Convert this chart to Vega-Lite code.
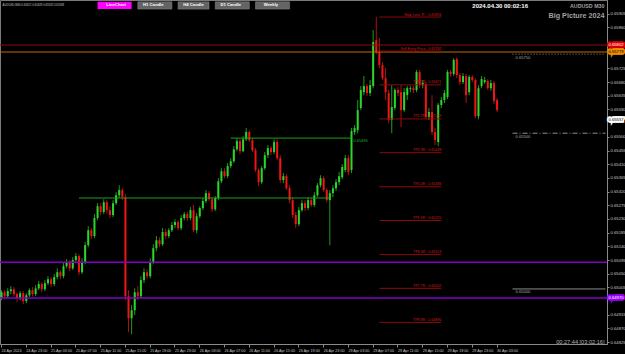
{
"$schema":"https://vega.github.io/schema/vega-lite/v6.json",
"width":607,"height":344,
"autosize":{"type":"none"},
"padding":{"left":0,"top":0,"right":18,"bottom":10},
"background":"#000000",
"config":{"view":{"stroke":"#7a7a7a"},"font":"Liberation Sans",
 "axisX":{"labelAlign":"left","labelAngle":0,"labelBaseline":"top","labelPadding":1,"labelFontSize":3.7,"labelColor":"#c8c8c8","labelFont":"Liberation Sans","tickSize":3,"tickColor":"#8a8a8a","domainColor":"#8a8a8a","labelOverlap":false,"labelBound":false,"labelFlush":false,"grid":false},
 "axisY":{"labelFontSize":4.2,"labelColor":"#c8c8c8","labelFont":"Liberation Sans","tickSize":2,"labelPadding":1,"tickColor":"#8a8a8a","domainColor":"#8a8a8a","grid":false,"labelOverlap":false,"labelBound":false,"labelFlush":false}},
"datasets":{
"bars":[
{"t":"24 Apr 19:00","o":0.64970,"h":0.64996,"l":0.64963,"c":0.64989},
{"t":"24 Apr 19:30","o":0.64989,"h":0.64996,"l":0.64966,"c":0.64976},
{"t":"24 Apr 20:00","o":0.64976,"h":0.65002,"l":0.64970,"c":0.64993},
{"t":"24 Apr 20:30","o":0.64993,"h":0.65009,"l":0.64983,"c":0.64999},
{"t":"24 Apr 21:00","o":0.64999,"h":0.65006,"l":0.64976,"c":0.64983},
{"t":"24 Apr 21:30","o":0.64983,"h":0.64989,"l":0.64956,"c":0.64970},
{"t":"24 Apr 22:00","o":0.64970,"h":0.64993,"l":0.64963,"c":0.64986},
{"t":"24 Apr 22:30","o":0.64986,"h":0.64993,"l":0.64950,"c":0.64960},
{"t":"24 Apr 23:00","o":0.64960,"h":0.64986,"l":0.64953,"c":0.64979},
{"t":"24 Apr 23:30","o":0.64979,"h":0.65002,"l":0.64973,"c":0.64996},
{"t":"25 Apr 00:00","o":0.64996,"h":0.65006,"l":0.64976,"c":0.64983},
{"t":"25 Apr 00:30","o":0.64983,"h":0.65012,"l":0.64976,"c":0.65002},
{"t":"25 Apr 01:00","o":0.65002,"h":0.65026,"l":0.64996,"c":0.65016},
{"t":"25 Apr 01:30","o":0.65016,"h":0.65022,"l":0.64989,"c":0.64999},
{"t":"25 Apr 02:00","o":0.64999,"h":0.65029,"l":0.64993,"c":0.65019},
{"t":"25 Apr 02:30","o":0.65019,"h":0.65042,"l":0.65012,"c":0.65032},
{"t":"25 Apr 03:00","o":0.65032,"h":0.65039,"l":0.65006,"c":0.65016},
{"t":"25 Apr 03:30","o":0.65016,"h":0.65049,"l":0.65009,"c":0.65039},
{"t":"25 Apr 04:00","o":0.65039,"h":0.65068,"l":0.65032,"c":0.65055},
{"t":"25 Apr 04:30","o":0.65055,"h":0.65062,"l":0.65032,"c":0.65042},
{"t":"25 Apr 05:00","o":0.65042,"h":0.65085,"l":0.65035,"c":0.65075},
{"t":"25 Apr 05:30","o":0.65075,"h":0.65098,"l":0.65068,"c":0.65088},
{"t":"25 Apr 06:00","o":0.65088,"h":0.65095,"l":0.65058,"c":0.65068},
{"t":"25 Apr 06:30","o":0.65068,"h":0.65104,"l":0.65062,"c":0.65095},
{"t":"25 Apr 07:00","o":0.65095,"h":0.65118,"l":0.65085,"c":0.65108},
{"t":"25 Apr 07:30","o":0.65108,"h":0.65114,"l":0.65045,"c":0.65055},
{"t":"25 Apr 08:00","o":0.65055,"h":0.65101,"l":0.65049,"c":0.65088},
{"t":"25 Apr 08:30","o":0.65088,"h":0.65154,"l":0.65081,"c":0.65144},
{"t":"25 Apr 09:00","o":0.65144,"h":0.65206,"l":0.65137,"c":0.65193},
{"t":"25 Apr 09:30","o":0.65193,"h":0.65200,"l":0.65164,"c":0.65174},
{"t":"25 Apr 10:00","o":0.65174,"h":0.65246,"l":0.65167,"c":0.65233},
{"t":"25 Apr 10:30","o":0.65233,"h":0.65282,"l":0.65226,"c":0.65272},
{"t":"25 Apr 11:00","o":0.65272,"h":0.65282,"l":0.65243,"c":0.65253},
{"t":"25 Apr 11:30","o":0.65253,"h":0.65295,"l":0.65246,"c":0.65285},
{"t":"25 Apr 12:00","o":0.65285,"h":0.65292,"l":0.65249,"c":0.65259},
{"t":"25 Apr 12:30","o":0.65259,"h":0.65272,"l":0.65233,"c":0.65243},
{"t":"25 Apr 13:00","o":0.65243,"h":0.65292,"l":0.65236,"c":0.65282},
{"t":"25 Apr 13:30","o":0.65282,"h":0.65318,"l":0.65276,"c":0.65308},
{"t":"25 Apr 14:00","o":0.65308,"h":0.65341,"l":0.65299,"c":0.65325},
{"t":"25 Apr 14:30","o":0.65325,"h":0.65331,"l":0.65292,"c":0.65302},
{"t":"25 Apr 15:00","o":0.65302,"h":0.65312,"l":0.64963,"c":0.64976},
{"t":"25 Apr 15:30","o":0.64976,"h":0.64996,"l":0.64858,"c":0.64904},
{"t":"25 Apr 16:00","o":0.64904,"h":0.64947,"l":0.64851,"c":0.64930},
{"t":"25 Apr 16:30","o":0.64930,"h":0.65002,"l":0.64914,"c":0.64989},
{"t":"25 Apr 17:00","o":0.64989,"h":0.65009,"l":0.64963,"c":0.64976},
{"t":"25 Apr 17:30","o":0.64976,"h":0.65042,"l":0.64970,"c":0.65029},
{"t":"25 Apr 18:00","o":0.65029,"h":0.65068,"l":0.65019,"c":0.65055},
{"t":"25 Apr 18:30","o":0.65055,"h":0.65065,"l":0.65032,"c":0.65042},
{"t":"25 Apr 19:00","o":0.65042,"h":0.65101,"l":0.65035,"c":0.65088},
{"t":"25 Apr 19:30","o":0.65088,"h":0.65147,"l":0.65081,"c":0.65134},
{"t":"25 Apr 20:00","o":0.65134,"h":0.65174,"l":0.65124,"c":0.65160},
{"t":"25 Apr 20:30","o":0.65160,"h":0.65170,"l":0.65137,"c":0.65147},
{"t":"25 Apr 21:00","o":0.65147,"h":0.65200,"l":0.65141,"c":0.65187},
{"t":"25 Apr 21:30","o":0.65187,"h":0.65197,"l":0.65164,"c":0.65174},
{"t":"25 Apr 22:00","o":0.65174,"h":0.65200,"l":0.65167,"c":0.65193},
{"t":"25 Apr 22:30","o":0.65193,"h":0.65220,"l":0.65187,"c":0.65210},
{"t":"25 Apr 23:00","o":0.65210,"h":0.65229,"l":0.65200,"c":0.65220},
{"t":"25 Apr 23:30","o":0.65220,"h":0.65226,"l":0.65193,"c":0.65200},
{"t":"26 Apr 00:00","o":0.65200,"h":0.65243,"l":0.65193,"c":0.65233},
{"t":"26 Apr 00:30","o":0.65233,"h":0.65253,"l":0.65226,"c":0.65246},
{"t":"26 Apr 01:00","o":0.65246,"h":0.65253,"l":0.65223,"c":0.65233},
{"t":"26 Apr 01:30","o":0.65233,"h":0.65269,"l":0.65226,"c":0.65259},
{"t":"26 Apr 02:00","o":0.65259,"h":0.65276,"l":0.65187,"c":0.65193},
{"t":"26 Apr 02:30","o":0.65193,"h":0.65249,"l":0.65183,"c":0.65239},
{"t":"26 Apr 03:00","o":0.65239,"h":0.65272,"l":0.65233,"c":0.65266},
{"t":"26 Apr 03:30","o":0.65266,"h":0.65299,"l":0.65259,"c":0.65289},
{"t":"26 Apr 04:00","o":0.65289,"h":0.65325,"l":0.65282,"c":0.65315},
{"t":"26 Apr 04:30","o":0.65315,"h":0.65322,"l":0.65289,"c":0.65295},
{"t":"26 Apr 05:00","o":0.65295,"h":0.65302,"l":0.65253,"c":0.65262},
{"t":"26 Apr 05:30","o":0.65262,"h":0.65305,"l":0.65256,"c":0.65299},
{"t":"26 Apr 06:00","o":0.65299,"h":0.65364,"l":0.65292,"c":0.65354},
{"t":"26 Apr 06:30","o":0.65354,"h":0.65397,"l":0.65348,"c":0.65387},
{"t":"26 Apr 07:00","o":0.65387,"h":0.65397,"l":0.65364,"c":0.65371},
{"t":"26 Apr 07:30","o":0.65371,"h":0.65414,"l":0.65364,"c":0.65404},
{"t":"26 Apr 08:00","o":0.65404,"h":0.65430,"l":0.65397,"c":0.65420},
{"t":"26 Apr 08:30","o":0.65420,"h":0.65470,"l":0.65414,"c":0.65459},
{"t":"26 Apr 09:00","o":0.65459,"h":0.65496,"l":0.65453,"c":0.65486},
{"t":"26 Apr 09:30","o":0.65486,"h":0.65492,"l":0.65443,"c":0.65453},
{"t":"26 Apr 10:00","o":0.65453,"h":0.65502,"l":0.65450,"c":0.65492},
{"t":"26 Apr 10:30","o":0.65492,"h":0.65529,"l":0.65486,"c":0.65516},
{"t":"26 Apr 11:00","o":0.65516,"h":0.65522,"l":0.65483,"c":0.65489},
{"t":"26 Apr 11:30","o":0.65489,"h":0.65496,"l":0.65450,"c":0.65456},
{"t":"26 Apr 12:00","o":0.65456,"h":0.65463,"l":0.65384,"c":0.65391},
{"t":"26 Apr 12:30","o":0.65391,"h":0.65397,"l":0.65338,"c":0.65351},
{"t":"26 Apr 13:00","o":0.65351,"h":0.65404,"l":0.65345,"c":0.65397},
{"t":"26 Apr 13:30","o":0.65397,"h":0.65450,"l":0.65391,"c":0.65440},
{"t":"26 Apr 14:00","o":0.65440,"h":0.65473,"l":0.65430,"c":0.65463},
{"t":"26 Apr 14:30","o":0.65463,"h":0.65470,"l":0.65440,"c":0.65450},
{"t":"26 Apr 15:00","o":0.65450,"h":0.65492,"l":0.65443,"c":0.65483},
{"t":"26 Apr 15:30","o":0.65483,"h":0.65492,"l":0.65424,"c":0.65430},
{"t":"26 Apr 16:00","o":0.65430,"h":0.65440,"l":0.65348,"c":0.65358},
{"t":"26 Apr 16:30","o":0.65358,"h":0.65381,"l":0.65348,"c":0.65371},
{"t":"26 Apr 17:00","o":0.65371,"h":0.65377,"l":0.65325,"c":0.65331},
{"t":"26 Apr 17:30","o":0.65331,"h":0.65341,"l":0.65282,"c":0.65292},
{"t":"26 Apr 18:00","o":0.65292,"h":0.65302,"l":0.65233,"c":0.65243},
{"t":"26 Apr 18:30","o":0.65243,"h":0.65253,"l":0.65200,"c":0.65213},
{"t":"26 Apr 19:00","o":0.65213,"h":0.65269,"l":0.65206,"c":0.65259},
{"t":"26 Apr 19:30","o":0.65259,"h":0.65292,"l":0.65253,"c":0.65282},
{"t":"26 Apr 20:00","o":0.65282,"h":0.65292,"l":0.65256,"c":0.65266},
{"t":"26 Apr 20:30","o":0.65266,"h":0.65302,"l":0.65259,"c":0.65292},
{"t":"26 Apr 21:00","o":0.65292,"h":0.65299,"l":0.65269,"c":0.65276},
{"t":"26 Apr 21:30","o":0.65276,"h":0.65318,"l":0.65269,"c":0.65308},
{"t":"26 Apr 22:00","o":0.65308,"h":0.65348,"l":0.65302,"c":0.65341},
{"t":"26 Apr 22:30","o":0.65341,"h":0.65374,"l":0.65334,"c":0.65364},
{"t":"26 Apr 23:00","o":0.65364,"h":0.65371,"l":0.65318,"c":0.65325},
{"t":"26 Apr 23:30","o":0.65325,"h":0.65331,"l":0.65285,"c":0.65292},
{"t":"29 Apr 00:00","o":0.65292,"h":0.65325,"l":0.65144,"c":0.65315},
{"t":"29 Apr 00:30","o":0.65315,"h":0.65341,"l":0.65302,"c":0.65331},
{"t":"29 Apr 01:00","o":0.65331,"h":0.65361,"l":0.65322,"c":0.65351},
{"t":"29 Apr 01:30","o":0.65351,"h":0.65384,"l":0.65341,"c":0.65371},
{"t":"29 Apr 02:00","o":0.65367,"h":0.65410,"l":0.65361,"c":0.65401},
{"t":"29 Apr 02:30","o":0.65391,"h":0.65440,"l":0.65384,"c":0.65430},
{"t":"29 Apr 03:00","o":0.65430,"h":0.65440,"l":0.65374,"c":0.65384},
{"t":"29 Apr 03:30","o":0.65391,"h":0.65529,"l":0.65381,"c":0.65519},
{"t":"29 Apr 04:00","o":0.65516,"h":0.65539,"l":0.65506,"c":0.65529},
{"t":"29 Apr 04:30","o":0.65522,"h":0.65621,"l":0.65512,"c":0.65588},
{"t":"29 Apr 05:00","o":0.65595,"h":0.65667,"l":0.65588,"c":0.65654},
{"t":"29 Apr 05:30","o":0.65647,"h":0.65700,"l":0.65637,"c":0.65667},
{"t":"29 Apr 06:00","o":0.65667,"h":0.65674,"l":0.65634,"c":0.65644},
{"t":"29 Apr 06:30","o":0.65644,"h":0.65687,"l":0.65634,"c":0.65670},
{"t":"29 Apr 07:00","o":0.65667,"h":0.65851,"l":0.65660,"c":0.65812},
{"t":"29 Apr 07:30","o":0.65818,"h":0.65894,"l":0.65772,"c":0.65779},
{"t":"29 Apr 08:00","o":0.65779,"h":0.65825,"l":0.65726,"c":0.65736},
{"t":"29 Apr 08:30","o":0.65736,"h":0.65746,"l":0.65687,"c":0.65693},
{"t":"29 Apr 09:00","o":0.65693,"h":0.65726,"l":0.65621,"c":0.65647},
{"t":"29 Apr 09:30","o":0.65644,"h":0.65654,"l":0.65545,"c":0.65555},
{"t":"29 Apr 10:00","o":0.65555,"h":0.65670,"l":0.65512,"c":0.65598},
{"t":"29 Apr 10:30","o":0.65595,"h":0.65660,"l":0.65588,"c":0.65654},
{"t":"29 Apr 11:00","o":0.65654,"h":0.65664,"l":0.65634,"c":0.65644},
{"t":"29 Apr 11:30","o":0.65647,"h":0.65670,"l":0.65532,"c":0.65588},
{"t":"29 Apr 12:00","o":0.65588,"h":0.65660,"l":0.65582,"c":0.65647},
{"t":"29 Apr 12:30","o":0.65637,"h":0.65667,"l":0.65621,"c":0.65660},
{"t":"29 Apr 13:00","o":0.65657,"h":0.65667,"l":0.65647,"c":0.65660},
{"t":"29 Apr 13:30","o":0.65660,"h":0.65667,"l":0.65644,"c":0.65654},
{"t":"29 Apr 14:00","o":0.65654,"h":0.65720,"l":0.65647,"c":0.65713},
{"t":"29 Apr 14:30","o":0.65713,"h":0.65720,"l":0.65660,"c":0.65670},
{"t":"29 Apr 15:00","o":0.65670,"h":0.65687,"l":0.65660,"c":0.65677},
{"t":"29 Apr 15:30","o":0.65674,"h":0.65680,"l":0.65558,"c":0.65565},
{"t":"29 Apr 16:00","o":0.65565,"h":0.65595,"l":0.65555,"c":0.65582},
{"t":"29 Apr 16:30","o":0.65582,"h":0.65637,"l":0.65506,"c":0.65516},
{"t":"29 Apr 17:00","o":0.65516,"h":0.65529,"l":0.65473,"c":0.65489},
{"t":"29 Apr 17:30","o":0.65483,"h":0.65611,"l":0.65470,"c":0.65605},
{"t":"29 Apr 18:00","o":0.65605,"h":0.65631,"l":0.65595,"c":0.65621},
{"t":"29 Apr 18:30","o":0.65621,"h":0.65654,"l":0.65611,"c":0.65644},
{"t":"29 Apr 19:00","o":0.65631,"h":0.65720,"l":0.65624,"c":0.65713},
{"t":"29 Apr 19:30","o":0.65713,"h":0.65720,"l":0.65697,"c":0.65707},
{"t":"29 Apr 20:00","o":0.65707,"h":0.65759,"l":0.65700,"c":0.65753},
{"t":"29 Apr 20:30","o":0.65756,"h":0.65762,"l":0.65693,"c":0.65703},
{"t":"29 Apr 21:00","o":0.65703,"h":0.65710,"l":0.65670,"c":0.65680},
{"t":"29 Apr 21:30","o":0.65680,"h":0.65710,"l":0.65674,"c":0.65700},
{"t":"29 Apr 22:00","o":0.65700,"h":0.65707,"l":0.65611,"c":0.65637},
{"t":"29 Apr 22:30","o":0.65647,"h":0.65703,"l":0.65637,"c":0.65697},
{"t":"29 Apr 23:00","o":0.65697,"h":0.65703,"l":0.65680,"c":0.65687},
{"t":"29 Apr 23:30","o":0.65687,"h":0.65693,"l":0.65562,"c":0.65568},
{"t":"30 Apr 00:00","o":0.65568,"h":0.65670,"l":0.65558,"c":0.65660},
{"t":"30 Apr 00:30","o":0.65667,"h":0.65700,"l":0.65660,"c":0.65690},
{"t":"30 Apr 01:00","o":0.65680,"h":0.65697,"l":0.65674,"c":0.65687},
{"t":"30 Apr 01:30","o":0.65684,"h":0.65690,"l":0.65654,"c":0.65660},
{"t":"30 Apr 02:00","o":0.65660,"h":0.65687,"l":0.65651,"c":0.65677},
{"t":"30 Apr 02:30","o":0.65677,"h":0.65684,"l":0.65608,"c":0.65618},
{"t":"30 Apr 03:00","o":0.65621,"h":0.65628,"l":0.65582,"c":0.65588}
],
"hlines":[
{"p":0.65802,"kind":"alert"},
{"p":0.65779,"kind":"entry"},
{"p":0.65088,"kind":"zone"},
{"p":0.64970,"kind":"zone"}
],
"segments":[
{"a":"25 Apr 07:30","b":"29 Apr 00:00","p":0.65299,"kind":"dayrange","label":""},
{"a":"26 Apr 08:00","b":"29 Apr 03:30","p":0.65496,"kind":"dayrange","label":"0.65496"},
{"a":"29 Apr 08:00","b":"29 Apr 18:00","p":0.65894,"kind":"trade","label":"Stop Loss 'R' - 0.65894"},
{"a":"29 Apr 08:00","b":"29 Apr 18:00","p":0.65782,"kind":"trade","label":"Sell Entry Price - 0.65782"},
{"a":"29 Apr 08:00","b":"29 Apr 18:00","p":0.65671,"kind":"trade","label":"TP1 1R - 0.65671"},
{"a":"29 Apr 08:00","b":"29 Apr 18:00","p":0.65559,"kind":"trade","label":"TP2 2R - 0.65559"},
{"a":"29 Apr 08:00","b":"29 Apr 18:00","p":0.65448,"kind":"trade","label":"TP3 3R - 0.65448"},
{"a":"29 Apr 08:00","b":"29 Apr 18:00","p":0.65336,"kind":"trade","label":"TP4 4R - 0.65336"},
{"a":"29 Apr 08:00","b":"29 Apr 18:00","p":0.65225,"kind":"trade","label":"TP5 5R - 0.65225"},
{"a":"29 Apr 08:00","b":"29 Apr 18:00","p":0.65113,"kind":"trade","label":"TP6 6R - 0.65113"},
{"a":"29 Apr 08:00","b":"29 Apr 18:00","p":0.65002,"kind":"trade","label":"TP7 7R - 0.65002"},
{"a":"29 Apr 08:00","b":"29 Apr 18:00","p":0.64890,"kind":"trade","label":"TP8 8R - 0.64890"},
{"a":"30 Apr 05:30","b":"30 Apr 20:30","p":0.65772,"kind":"round_dot","label":"0.65750"},
{"a":"30 Apr 05:30","b":"30 Apr 20:30","p":0.65512,"kind":"round_dashdot","label":"0.65500"},
{"a":"30 Apr 05:30","b":"30 Apr 20:30","p":0.65000,"kind":"round_solid","label":"0.65000"}
],
"tags":[
{"p":0.65802,"text":"0.65802","kind":"alert"},
{"p":0.65779,"text":"0.65779","kind":"entry"},
{"p":0.65557,"text":"0.65557","kind":"price"},
{"p":0.64970,"text":"0.64970","kind":"zone"}
],
"buttons":[
{"a":"25 Apr 10:30","b":"25 Apr 16:00","t":"25 Apr 13:30","hi":0.65944,"lo":0.65920,"p":0.65932,"text":"LineChart","kind":"active"},
{"a":"25 Apr 17:00","b":"25 Apr 22:30","t":"25 Apr 19:30","hi":0.65944,"lo":0.65920,"p":0.65932,"text":"H1 Candle","kind":"idle"},
{"a":"25 Apr 23:30","b":"26 Apr 04:30","t":"26 Apr 02:00","hi":0.65944,"lo":0.65920,"p":0.65932,"text":"H4 Candle","kind":"idle"},
{"a":"26 Apr 05:30","b":"26 Apr 11:00","t":"26 Apr 08:00","hi":0.65944,"lo":0.65920,"p":0.65932,"text":"D1 Candle","kind":"idle"},
{"a":"26 Apr 12:00","b":"26 Apr 17:30","t":"26 Apr 14:30","hi":0.65944,"lo":0.65920,"p":0.65932,"text":"Weekly","kind":"idle"}
],
"notes":[
{"t":"24 Apr 19:00","p":0.65935,"text":"AUDUSD,M30  0.65621 0.65628 0.65582 0.65588","kind":"info"},
{"t":"30 Apr 03:30","p":0.65930,"text":"2024.04.30 00:02:16","kind":"clock"},
{"t":"30 Apr 20:30","p":0.65930,"text":"AUDUSD M30","kind":"symbol"},
{"t":"30 Apr 20:30","p":0.65899,"text":"Big Picture 2024","kind":"title"},
{"t":"30 Apr 20:30","p":0.64826,"text":"00:27:44 [03:02:16]","kind":"timer"}
]
},
"layer":[
{"data":{"name":"bars"},"mark":{"type":"rule","strokeWidth":1},
 "encoding":{
  "x":{"field":"t","type":"ordinal","scale":{"paddingInner":0.35,"paddingOuter":0.175,"domain":["24 Apr 19:00","24 Apr 19:30","24 Apr 20:00","24 Apr 20:30","24 Apr 21:00","24 Apr 21:30","24 Apr 22:00","24 Apr 22:30","24 Apr 23:00","24 Apr 23:30",
"25 Apr 00:00","25 Apr 00:30","25 Apr 01:00","25 Apr 01:30","25 Apr 02:00","25 Apr 02:30","25 Apr 03:00","25 Apr 03:30","25 Apr 04:00","25 Apr 04:30","25 Apr 05:00","25 Apr 05:30","25 Apr 06:00","25 Apr 06:30","25 Apr 07:00","25 Apr 07:30","25 Apr 08:00","25 Apr 08:30","25 Apr 09:00","25 Apr 09:30","25 Apr 10:00","25 Apr 10:30","25 Apr 11:00","25 Apr 11:30","25 Apr 12:00","25 Apr 12:30","25 Apr 13:00","25 Apr 13:30","25 Apr 14:00","25 Apr 14:30","25 Apr 15:00","25 Apr 15:30","25 Apr 16:00","25 Apr 16:30","25 Apr 17:00","25 Apr 17:30","25 Apr 18:00","25 Apr 18:30","25 Apr 19:00","25 Apr 19:30","25 Apr 20:00","25 Apr 20:30","25 Apr 21:00","25 Apr 21:30","25 Apr 22:00","25 Apr 22:30","25 Apr 23:00","25 Apr 23:30",
"26 Apr 00:00","26 Apr 00:30","26 Apr 01:00","26 Apr 01:30","26 Apr 02:00","26 Apr 02:30","26 Apr 03:00","26 Apr 03:30","26 Apr 04:00","26 Apr 04:30","26 Apr 05:00","26 Apr 05:30","26 Apr 06:00","26 Apr 06:30","26 Apr 07:00","26 Apr 07:30","26 Apr 08:00","26 Apr 08:30","26 Apr 09:00","26 Apr 09:30","26 Apr 10:00","26 Apr 10:30","26 Apr 11:00","26 Apr 11:30","26 Apr 12:00","26 Apr 12:30","26 Apr 13:00","26 Apr 13:30","26 Apr 14:00","26 Apr 14:30","26 Apr 15:00","26 Apr 15:30","26 Apr 16:00","26 Apr 16:30","26 Apr 17:00","26 Apr 17:30","26 Apr 18:00","26 Apr 18:30","26 Apr 19:00","26 Apr 19:30","26 Apr 20:00","26 Apr 20:30","26 Apr 21:00","26 Apr 21:30","26 Apr 22:00","26 Apr 22:30","26 Apr 23:00","26 Apr 23:30",
"29 Apr 00:00","29 Apr 00:30","29 Apr 01:00","29 Apr 01:30","29 Apr 02:00","29 Apr 02:30","29 Apr 03:00","29 Apr 03:30","29 Apr 04:00","29 Apr 04:30","29 Apr 05:00","29 Apr 05:30","29 Apr 06:00","29 Apr 06:30","29 Apr 07:00","29 Apr 07:30","29 Apr 08:00","29 Apr 08:30","29 Apr 09:00","29 Apr 09:30","29 Apr 10:00","29 Apr 10:30","29 Apr 11:00","29 Apr 11:30","29 Apr 12:00","29 Apr 12:30","29 Apr 13:00","29 Apr 13:30","29 Apr 14:00","29 Apr 14:30","29 Apr 15:00","29 Apr 15:30","29 Apr 16:00","29 Apr 16:30","29 Apr 17:00","29 Apr 17:30","29 Apr 18:00","29 Apr 18:30","29 Apr 19:00","29 Apr 19:30","29 Apr 20:00","29 Apr 20:30","29 Apr 21:00","29 Apr 21:30","29 Apr 22:00","29 Apr 22:30","29 Apr 23:00","29 Apr 23:30",
"30 Apr 00:00","30 Apr 00:30","30 Apr 01:00","30 Apr 01:30","30 Apr 02:00","30 Apr 02:30","30 Apr 03:00","30 Apr 03:30","30 Apr 04:00","30 Apr 04:30","30 Apr 05:00","30 Apr 05:30","30 Apr 06:00","30 Apr 06:30","30 Apr 07:00","30 Apr 07:30","30 Apr 08:00","30 Apr 08:30","30 Apr 09:00","30 Apr 09:30","30 Apr 10:00","30 Apr 10:30","30 Apr 11:00","30 Apr 11:30","30 Apr 12:00","30 Apr 12:30","30 Apr 13:00","30 Apr 13:30","30 Apr 14:00","30 Apr 14:30","30 Apr 15:00","30 Apr 15:30","30 Apr 16:00","30 Apr 16:30","30 Apr 17:00","30 Apr 17:30","30 Apr 18:00","30 Apr 18:30","30 Apr 19:00","30 Apr 19:30","30 Apr 20:00","30 Apr 20:30"]},
   "axis":{"title":null,"values":["24 Apr 19:00","24 Apr 23:00","25 Apr 03:00","25 Apr 07:00","25 Apr 11:00","25 Apr 15:00","25 Apr 19:00","25 Apr 23:00","26 Apr 03:00","26 Apr 07:00","26 Apr 11:00","26 Apr 15:00","26 Apr 19:00","26 Apr 23:00","29 Apr 03:00","29 Apr 07:00","29 Apr 11:00","29 Apr 15:00","29 Apr 19:00","29 Apr 23:00","30 Apr 03:00"],
    "labelExpr":"datum.value == '24 Apr 19:00' ? '24 Apr 2024' : datum.value","labelOverlap":false,"labelBound":false,"labelFlush":false}},
  "y":{"field":"l","type":"quantitative","scale":{"domain":[0.64819,0.65950],"zero":false,"nice":false},
   "axis":{"title":null,"orient":"right","values":[0.64825,0.6487,0.64915,0.65005,0.6505,0.65095,0.6514,0.65185,0.6523,0.65275,0.6532,0.65365,0.6541,0.65455,0.655,0.6559,0.65635,0.6568,0.65725,0.6586,0.65905],"format":".5f","labelOverlap":false,"labelBound":false,"labelFlush":false,"tickCount":25}},
  "y2":{"field":"h"},
  "color":{"condition":{"test":"datum.c >= datum.o","value":"#1c9c1c"},"value":"#b01010"}
 }},
{"data":{"name":"bars"},"mark":{"type":"bar"},
 "encoding":{
  "x":{"field":"t","type":"ordinal","axis":{"title":null}},
  "y":{"field":"o","type":"quantitative","axis":{"title":null,"orient":"right"}},
  "y2":{"field":"c"},
  "color":{"condition":{"test":"datum.c >= datum.o","value":"#2bd62b"},"value":"#f01515"}
 }},
{"data":{"name":"hlines"},"transform":[{"filter":"datum.kind == 'alert'"}],"mark":{"type":"rule","color":"#8c0c0c","strokeWidth":1},"encoding":{"y":{"field":"p","type":"quantitative","axis":{"title":null,"orient":"right"}}}},
{"data":{"name":"hlines"},"transform":[{"filter":"datum.kind == 'entry'"}],"mark":{"type":"rule","color":"#c46a00","strokeWidth":1},"encoding":{"y":{"field":"p","type":"quantitative","axis":{"title":null,"orient":"right"}}}},
{"data":{"name":"hlines"},"transform":[{"filter":"datum.kind == 'zone'"}],"mark":{"type":"rule","color":"#8400c8","strokeWidth":1.5},"encoding":{"y":{"field":"p","type":"quantitative","axis":{"title":null,"orient":"right"}}}},
{"data":{"name":"segments"},"transform":[{"filter":"datum.kind == 'dayrange'"}],"mark":{"type":"rule","color":"#1aa01a","strokeWidth":1},
 "encoding":{"x":{"field":"a","type":"ordinal","axis":{"title":null}},"x2":{"field":"b"},"y":{"field":"p","type":"quantitative","axis":{"title":null,"orient":"right"}}}},
{"data":{"name":"segments"},"transform":[{"filter":"datum.kind == 'trade'"}],"mark":{"type":"rule","color":"#8a0a0a","strokeWidth":1},
 "encoding":{"x":{"field":"a","type":"ordinal","axis":{"title":null}},"x2":{"field":"b"},"y":{"field":"p","type":"quantitative","axis":{"title":null,"orient":"right"}}}},
{"data":{"name":"segments"},"transform":[{"filter":"datum.kind == 'round_dot'"}],"mark":{"type":"rule","color":"#8c8c8c","strokeWidth":1,"strokeDash":[1,2]},
 "encoding":{"x":{"field":"a","type":"ordinal","axis":{"title":null}},"x2":{"field":"b"},"y":{"field":"p","type":"quantitative","axis":{"title":null,"orient":"right"}}}},
{"data":{"name":"segments"},"transform":[{"filter":"datum.kind == 'round_dashdot'"}],"mark":{"type":"rule","color":"#8c8c8c","strokeWidth":1,"strokeDash":[5,2,1,2]},
 "encoding":{"x":{"field":"a","type":"ordinal","axis":{"title":null}},"x2":{"field":"b"},"y":{"field":"p","type":"quantitative","axis":{"title":null,"orient":"right"}}}},
{"data":{"name":"segments"},"transform":[{"filter":"datum.kind == 'round_solid'"}],"mark":{"type":"rule","color":"#8c8c8c","strokeWidth":1},
 "encoding":{"x":{"field":"a","type":"ordinal","axis":{"title":null}},"x2":{"field":"b"},"y":{"field":"p","type":"quantitative","axis":{"title":null,"orient":"right"}}}},
{"data":{"name":"segments"},"transform":[{"filter":"datum.kind == 'trade'"}],"mark":{"type":"text","align":"right","baseline":"bottom","dy":-0.5,"fontSize":3.6,"color":"#d81818","font":"Liberation Sans"},
 "encoding":{"x":{"field":"b","type":"ordinal","axis":{"title":null}},"y":{"field":"p","type":"quantitative","axis":{"title":null,"orient":"right"}},"text":{"field":"label"}}},
{"data":{"name":"segments"},"transform":[{"filter":"datum.kind == 'dayrange' && datum.label != ''"}],"mark":{"type":"text","align":"left","baseline":"top","dx":2,"dy":0.5,"fontSize":3.9,"color":"#22b022","font":"Liberation Sans"},
 "encoding":{"x":{"field":"b","type":"ordinal","axis":{"title":null}},"y":{"field":"p","type":"quantitative","axis":{"title":null,"orient":"right"}},"text":{"field":"label"}}},
{"data":{"name":"segments"},"transform":[{"filter":"indexof(datum.kind, 'round') == 0"}],"mark":{"type":"text","align":"left","baseline":"top","dx":3,"dy":1.5,"fontSize":4.1,"color":"#a8a8a8","font":"Liberation Sans"},
 "encoding":{"x":{"field":"a","type":"ordinal","axis":{"title":null}},"y":{"field":"p","type":"quantitative","axis":{"title":null,"orient":"right"}},"text":{"field":"label"}}},
{"data":{"name":"tags"},"mark":{"type":"text","align":"left","baseline":"middle","dx":3,"fontSize":4.2,"strokeWidth":3.5,"strokeJoin":"miter","font":"Liberation Sans"},
 "encoding":{"x":{"datum":"30 Apr 20:30","type":"ordinal","axis":{"title":null}},"y":{"field":"p","type":"quantitative","axis":{"title":null,"orient":"right"}},"text":{"field":"text"},
  "fill":{"field":"kind","type":"nominal","legend":null,"scale":{"domain":["alert","entry","price","zone"],"range":["#e00000","#f08c00","#ffffff","#9a00ff"]}},
  "stroke":{"field":"kind","type":"nominal","legend":null,"scale":{"domain":["alert","entry","price","zone"],"range":["#e00000","#f08c00","#ffffff","#9a00ff"]}}}},
{"data":{"name":"tags"},"mark":{"type":"text","align":"left","baseline":"middle","dx":3,"fontSize":4.2,"font":"Liberation Sans"},
 "encoding":{"x":{"datum":"30 Apr 20:30","type":"ordinal","axis":{"title":null}},"y":{"field":"p","type":"quantitative","axis":{"title":null,"orient":"right"}},"text":{"field":"text"},
  "color":{"field":"kind","type":"nominal","legend":null,"scale":{"domain":["alert","entry","price","zone"],"range":["#ffffff","#000000","#000000","#ffffff"]}}}},
{"data":{"name":"buttons"},"transform":[{"filter":"datum.kind == 'active'"}],"mark":{"type":"rect","color":"#ff00ff"},
 "encoding":{"x":{"field":"a","type":"ordinal","axis":{"title":null}},"x2":{"field":"b"},"y":{"field":"hi","type":"quantitative","axis":{"title":null,"orient":"right"}},"y2":{"field":"lo"}}},
{"data":{"name":"buttons"},"transform":[{"filter":"datum.kind == 'idle'"}],"mark":{"type":"rect","color":"#646464","stroke":"#8a8a8a","strokeWidth":0.5},
 "encoding":{"x":{"field":"a","type":"ordinal","axis":{"title":null}},"x2":{"field":"b"},"y":{"field":"hi","type":"quantitative","axis":{"title":null,"orient":"right"}},"y2":{"field":"lo"}}},
{"data":{"name":"buttons"},"mark":{"type":"text","align":"center","baseline":"middle","fontSize":4.2,"fontWeight":"bold","color":"#ffffff","font":"Liberation Sans"},
 "encoding":{"x":{"field":"t","type":"ordinal","axis":{"title":null}},"y":{"field":"p","type":"quantitative","axis":{"title":null,"orient":"right"}},"text":{"field":"text"}}},
{"data":{"name":"notes"},"transform":[{"filter":"datum.kind == 'info'"}],"mark":{"type":"text","align":"left","baseline":"middle","dx":1,"fontSize":2.8,"color":"#c0c0c0","font":"Liberation Sans"},
 "encoding":{"x":{"field":"t","type":"ordinal","axis":{"title":null}},"y":{"field":"p","type":"quantitative","axis":{"title":null,"orient":"right"}},"text":{"field":"text"}}},
{"data":{"name":"notes"},"transform":[{"filter":"datum.kind == 'clock'"}],"mark":{"type":"text","align":"center","baseline":"middle","fontSize":6,"fontWeight":"bold","color":"#ffffff","font":"Liberation Sans"},
 "encoding":{"x":{"field":"t","type":"ordinal","axis":{"title":null}},"y":{"field":"p","type":"quantitative","axis":{"title":null,"orient":"right"}},"text":{"field":"text"}}},
{"data":{"name":"notes"},"transform":[{"filter":"datum.kind == 'symbol'"}],"mark":{"type":"text","align":"right","baseline":"middle","dx":-1,"fontSize":5.3,"fontWeight":"bold","color":"#a0a0a0","font":"Liberation Sans"},
 "encoding":{"x":{"field":"t","type":"ordinal","axis":{"title":null}},"y":{"field":"p","type":"quantitative","axis":{"title":null,"orient":"right"}},"text":{"field":"text"}}},
{"data":{"name":"notes"},"transform":[{"filter":"datum.kind == 'title'"}],"mark":{"type":"text","align":"right","baseline":"middle","dx":-1,"fontSize":7.2,"fontWeight":"bold","color":"#a0a0a0","font":"Liberation Sans"},
 "encoding":{"x":{"field":"t","type":"ordinal","axis":{"title":null}},"y":{"field":"p","type":"quantitative","axis":{"title":null,"orient":"right"}},"text":{"field":"text"}}},
{"data":{"name":"notes"},"transform":[{"filter":"datum.kind == 'timer'"}],"mark":{"type":"text","align":"right","baseline":"middle","dx":-1,"fontSize":5.6,"color":"#b4b4b4","font":"Liberation Sans"},
 "encoding":{"x":{"field":"t","type":"ordinal","axis":{"title":null}},"y":{"field":"p","type":"quantitative","axis":{"title":null,"orient":"right"}},"text":{"field":"text"}}}
]
}
